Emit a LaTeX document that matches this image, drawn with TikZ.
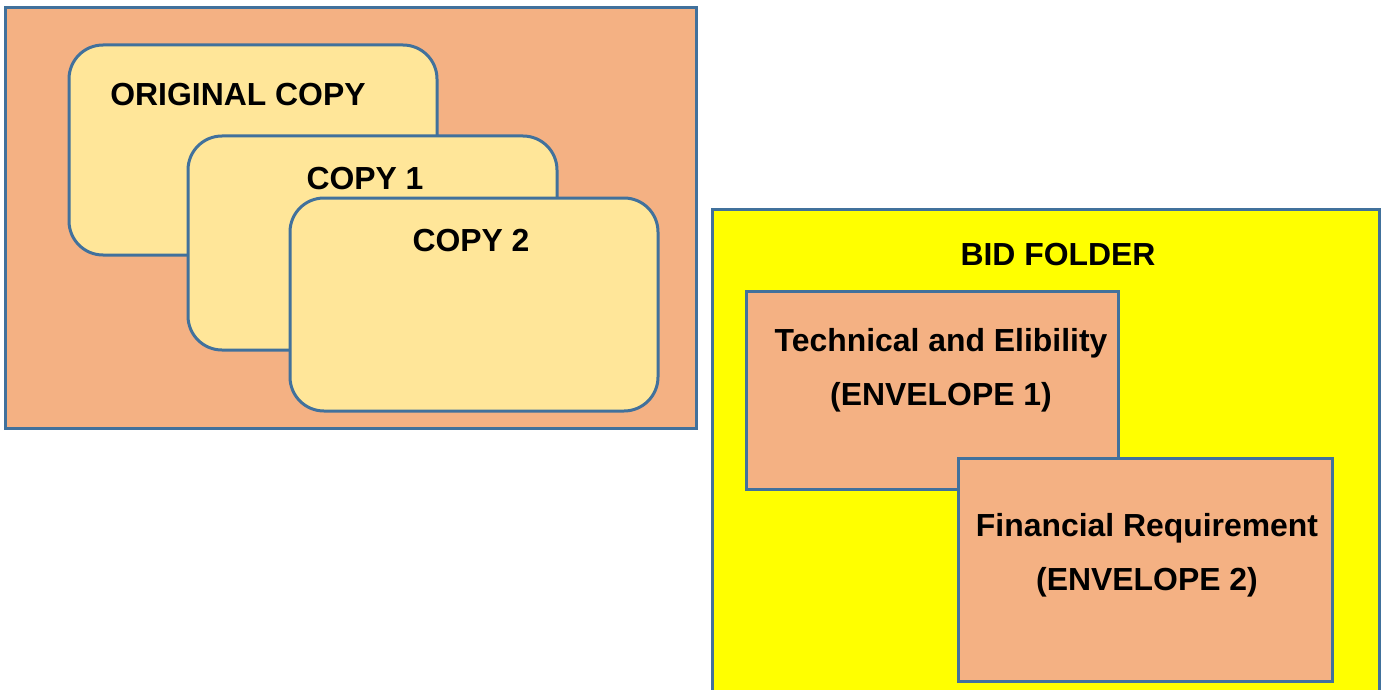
\documentclass[tikz,border=0pt]{standalone}
\usepackage{fontspec}
\setmainfont{Liberation Sans}
\definecolor{edge}{HTML}{41719C}
\definecolor{peach}{HTML}{F4B183}
\definecolor{cream}{HTML}{FFE699}
\definecolor{brightyellow}{HTML}{FFFF00}
\tikzset{
  panel/.style={draw=edge, line width=3pt},
  copycard/.style={panel, fill=cream, rounded corners=34pt},
  label/.style={font=\fontsize{31.9}{54}\selectfont\bfseries, align=center, inner sep=0pt}
}
\begin{document}
\begin{tikzpicture}[x=1pt,y=-1pt]
\useasboundingbox (0,0) rectangle (1386,690);
% left group: the three copies
\draw[panel, fill=peach] (5,8) rectangle (696,428);
\draw[copycard] (69,45) rectangle (437,255);
\draw[copycard] (188,136) rectangle (557,350);
\draw[copycard] (290,198) rectangle (658,411);
\node[label] (orig) at (238,95) {ORIGINAL COPY};
\node[label] (c1) at (365,179) {COPY 1};
\node[label] (c2) at (471,241) {COPY 2};
% right group: the bid folder with its two envelopes
\begin{scope}
\clip (0,0) rectangle (1386,690);
\draw[panel, fill=brightyellow] (712,209) rectangle (1379,720);
\end{scope}
\node[label] (folder) at (1058,255) {BID FOLDER};
\draw[panel, fill=peach] (746,291) rectangle (1118,489);
\draw[panel, fill=peach] (958,458) rectangle (1332,681);
\node[label] (env1) at (941,370) {Technical and Elibility\\(ENVELOPE 1)};
\node[label] (env2) at (1147,555) {Financial Requirement\\(ENVELOPE 2)};
\end{tikzpicture}
\end{document}
